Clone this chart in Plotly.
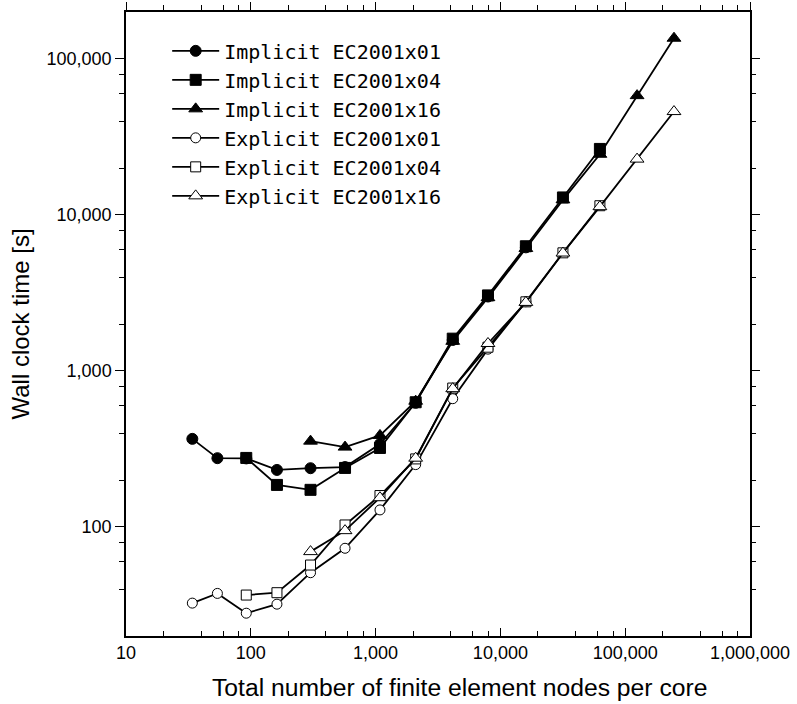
import math
import plotly.graph_objects as go

# ---- data ----
x_nodes = [34, 54, 92, 162, 301, 569, 1084, 2094, 4150, 7950, 16000, 31700, 62700, 124500, 246000]

impl_x01 = [367, 276, 275, 232, 238, 242, 340, 625, 1580, 3000, 6200]          # x_nodes[0:11]
impl_x04 = [277, 186, 173, 239, 321, 630, 1611, 3050, 6300, 12950, 26500]       # x_nodes[2:13]
impl_x16 = [355, 325, 386, 640, 1550, 2950, 6100, 12500, 24500, 58200, 135800]  # x_nodes[4:15]
expl_x01 = [32.5, 37.5, 28, 32, 50.9, 73, 128.6, 251, 664, 1380, 2780]          # x_nodes[0:11]
expl_x04 = [36.6, 37.9, 57, 103, 159, 273, 777, 1420, 2774, 5717, 11460]        # x_nodes[2:13]
expl_x16 = [69.5, 94.7, 154, 276, 770, 1500, 2750, 5700, 11300, 22800, 46000]   # x_nodes[4:15]

x_tickvals = [10, 100, 1000, 10000, 100000, 1000000]
x_ticktext = ["10", "100", "1,000", "10,000", "100,000", "1,000,000"]
y_tickvals = [100, 1000, 10000, 100000]
y_ticktext = ["100", "1,000", "10,000", "100,000"]

series = [
    ("Implicit EC2001x01", x_nodes[0:11], impl_x01, "circle", "black", 11),
    ("Implicit EC2001x04", x_nodes[2:13], impl_x04, "square", "black", 11),
    ("Implicit EC2001x16", x_nodes[4:15], impl_x16, "triangle-up", "black", 12),
    ("Explicit EC2001x01", x_nodes[0:11], expl_x01, "circle", "white", 10),
    ("Explicit EC2001x04", x_nodes[2:13], expl_x04, "square", "white", 10),
    ("Explicit EC2001x16", x_nodes[4:15], expl_x16, "triangle-up", "white", 12),
]

fig = go.Figure()
for name, xs, ys, sym, fill, size in series:
    fig.add_trace(go.Scatter(
        x=xs, y=ys, name=name, mode="lines+markers",
        line=dict(color="black", width=1.8),
        marker=dict(symbol=sym, size=size, color=fill,
                    line=dict(color="black", width=1)),
    ))

# invisible trace for the mirrored (top/right) axes
fig.add_trace(go.Scatter(x=[], y=[], xaxis="x2", yaxis="y2", showlegend=False))

x_minor = [m * 10 ** k for k in range(1, 6) for m in (2, 4, 6, 8)]
y_minor = [m * 10 ** k for k in range(1, 6) for m in (2, 4, 6, 8)]
y_minor = [v for v in y_minor if 20 < v < 200000]

xr = [1, 6]
yr = [math.log10(20), math.log10(200000)]
sans = "Liberation Sans, Arial, sans-serif"
tickfont = dict(family=sans, size=18, color="black")

fig.update_layout(
    width=797, height=704,
    margin=dict(l=126, r=47, t=12, b=68),
    paper_bgcolor="white", plot_bgcolor="white",
    showlegend=True,
    legend=dict(
        x=0.066, y=0.969, xanchor="left", yanchor="top",
        bgcolor="rgba(255,255,255,0)", borderwidth=0,
        font=dict(family="DejaVu Sans Mono, monospace", size=20, color="black"),
        itemwidth=47, tracegroupgap=0,
    ),
    xaxis=dict(
        type="log", range=xr, showgrid=False, zeroline=False, automargin=False,
        showline=True, linecolor="black", linewidth=1.5,
        ticks="inside", ticklen=8, tickwidth=1, tickcolor="black",
        tickvals=x_tickvals, ticktext=x_ticktext, tickfont=tickfont,
        minor=dict(tickvals=x_minor, ticks="inside", ticklen=5, tickwidth=1,
                   tickcolor="black", showgrid=False),
    ),
    xaxis2=dict(
        type="log", range=xr, overlaying="x", side="top", anchor="y", automargin=False,
        showgrid=False, zeroline=False, showline=True, linecolor="black", linewidth=1.5,
        ticks="outside", ticklen=8, tickwidth=1, tickcolor="black",
        tickvals=x_tickvals, showticklabels=False,
        minor=dict(tickvals=x_minor, ticks="outside", ticklen=5, tickwidth=1,
                   tickcolor="black", showgrid=False),
    ),
    yaxis=dict(
        type="log", range=yr, showgrid=False, zeroline=False, automargin=False,
        showline=True, linecolor="black", linewidth=1.5,
        ticks="outside", ticklen=9, tickwidth=1, tickcolor="black",
        tickvals=y_tickvals, ticktext=y_ticktext, tickfont=tickfont,
        title=dict(text="Wall clock time [s]", standoff=10,
                   font=dict(family=sans, size=24, color="black")),
        minor=dict(tickvals=y_minor, ticks="outside", ticklen=5, tickwidth=1,
                   tickcolor="black", showgrid=False),
    ),
    yaxis2=dict(
        type="log", range=yr, overlaying="y", side="right", anchor="x", automargin=False,
        showgrid=False, zeroline=False, showline=True, linecolor="black", linewidth=1.5,
        ticks="outside", ticklen=8, tickwidth=1, tickcolor="black",
        tickvals=y_tickvals, showticklabels=False,
        minor=dict(tickvals=y_minor, ticks="outside", ticklen=4, tickwidth=1,
                   tickcolor="black", showgrid=False),
    ),
    annotations=[dict(
        text="Total number of finite element nodes per core",
        xref="paper", yref="paper", x=0.535, y=0, yshift=-51,
        xanchor="center", yanchor="middle", showarrow=False,
        font=dict(family=sans, size=24.7, color="black"),
    )],
)

fig.write_html("out.html")
